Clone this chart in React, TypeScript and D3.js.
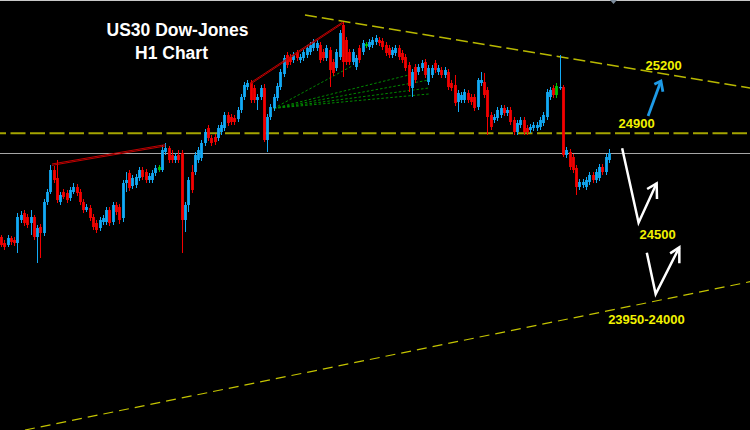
import React from 'react';
import * as d3 from 'd3';

// ---- data (US30 H1 candles, prices) ----
const opens = [24589,24571,24565,24586,24580,24571,24640,24661,24649,24631,24649,24589,24619,24601,24694,24724,24790,24766,24694,24724,24721,24706,24724,24739,24724,24694,24670,24676,24649,24631,24616,24634,24634,24670,24634,24685,24679,24646,24751,24781,24742,24745,24766,24790,24784,24760,24760,24781,24790,24790,24844,24856,24835,24820,24835,24841,24640,24685,24784,24784,24820,24826,24871,24916,24886,24889,24886,24904,24916,24955,24949,24946,24943,24970,25009,25039,25051,25036,25000,25009,25036,24880,24949,24976,25006,25039,25078,25135,25129,25120,25141,25120,25126,25135,25144,25156,25156,25165,25144,25126,25150,25114,25096,25129,25225,25180,25144,25114,25099,25156,25144,25162,25159,25165,25174,25180,25177,25165,25156,25135,25141,25156,25141,25129,25105,25036,25099,25084,25096,25114,25054,25075,25111,25084,25090,25075,25084,25051,25045,24994,25000,25000,25021,25009,25009,24979,25051,25054,25030,24955,24940,24946,24955,24976,24961,24970,24940,24904,24925,24940,24916,24910,24916,24916,24919,24931,24949,25009,25036,25015,25036,25039,24835,24844,24829,24796,24739,24745,24739,24754,24775,24760,24766,24799,24784,24820];
const highs = [24595,24580,24595,24592,24589,24661,24667,24670,24658,24670,24655,24625,24628,24703,24733,24805,24802,24820,24724,24733,24730,24739,24751,24748,24733,24703,24688,24685,24658,24640,24649,24655,24679,24679,24694,24694,24688,24760,24784,24790,24775,24778,24799,24799,24793,24781,24790,24805,24805,24865,24871,24862,24850,24841,24850,24850,24694,24769,24805,24844,24859,24880,24913,24925,24895,24898,24925,24934,24964,24964,24958,24955,24979,25018,25054,25060,25060,25045,25018,25045,25048,24958,24988,25018,25051,25093,25135,25144,25138,25144,25150,25138,25153,25165,25174,25183,25180,25174,25153,25165,25159,25123,25153,25210,25234,25189,25153,25153,25135,25165,25180,25174,25183,25189,25195,25189,25186,25174,25165,25159,25165,25165,25150,25138,25114,25093,25108,25108,25120,25123,25105,25105,25120,25105,25099,25099,25093,25060,25075,25030,25024,25033,25030,25018,25018,25066,25084,25081,25039,24964,24958,24979,24985,24985,24979,24979,24949,24940,24949,24949,24925,24928,24934,24934,24949,24964,25033,25039,25045,25051,25135,25045,24859,24853,24838,24805,24763,24763,24769,24784,24784,24793,24808,24808,24838,24853];
const lows = [24559,24550,24559,24565,24562,24541,24631,24622,24616,24595,24580,24511,24526,24592,24685,24718,24751,24691,24685,24703,24691,24697,24718,24712,24685,24661,24664,24637,24610,24601,24607,24625,24625,24622,24625,24655,24628,24634,24724,24727,24733,24736,24757,24760,24751,24751,24751,24772,24784,24784,24835,24811,24811,24811,24811,24541,24604,24664,24721,24775,24811,24817,24862,24877,24862,24865,24877,24895,24907,24922,24925,24925,24934,24961,25000,25030,24991,24991,24970,25000,24874,24844,24940,24967,24997,25030,25069,25096,25105,25111,25117,25111,25117,25126,25135,25147,25147,25111,25117,25117,25039,25072,25087,25120,25069,25105,25105,25105,25090,25111,25135,25156,25150,25156,25165,25162,25150,25132,25126,25126,25132,25120,25111,25087,25024,25009,25051,25075,25087,25066,25045,25066,25081,25075,25066,25066,25030,25027,24982,24964,24991,24991,24991,24985,24967,24970,25042,25006,24895,24910,24931,24937,24946,24952,24952,24925,24895,24895,24916,24895,24895,24901,24907,24907,24910,24922,24940,25000,25006,25006,25030,24829,24826,24790,24781,24715,24730,24736,24730,24745,24751,24751,24757,24775,24775,24811];
const closes = [24565,24559,24586,24574,24571,24649,24655,24631,24625,24649,24589,24616,24601,24694,24724,24790,24760,24700,24715,24709,24700,24730,24739,24721,24694,24670,24679,24646,24619,24610,24640,24646,24670,24631,24685,24664,24640,24751,24760,24736,24766,24769,24790,24769,24760,24772,24781,24796,24799,24850,24856,24820,24820,24832,24820,24640,24685,24760,24730,24835,24850,24871,24904,24886,24871,24874,24916,24925,24955,24931,24934,24934,24970,25009,25045,25051,25000,25000,25009,25036,24880,24949,24979,25009,25042,25084,25126,25105,25114,25135,25126,25129,25144,25156,25165,25174,25171,25120,25126,25156,25090,25081,25144,25201,25114,25114,25114,25144,25126,25120,25171,25168,25174,25180,25186,25171,25159,25141,25135,25150,25156,25129,25120,25096,25042,25084,25060,25099,25111,25075,25096,25096,25090,25096,25075,25090,25039,25036,24991,25021,25015,25024,25000,24994,24976,25060,25060,25015,24949,24919,24949,24970,24976,24961,24970,24934,24904,24931,24940,24904,24904,24919,24925,24925,24940,24955,25024,25030,25015,25042,25039,24835,24850,24799,24790,24739,24754,24754,24760,24775,24760,24784,24799,24784,24829,24841];
const greenBars = [48, 111, 169];

// ---- drawn objects (bar index, price) ----
const levelPrice = 24900;
const upperTrend = [[92.5, 25255], [228, 25036]];
const lowerTrend = [[7.3, 24010], [228, 24455]];
const redTrendA = [[15.5, 24808], [50, 24866]];
const redTrendB = [[75.8, 25051], [104, 25234]];
const fanOrigin = [83, 24975];
const fanEnds = [[106.8, 25102], [124.1, 25075], [130.2, 25060], [130.2, 25036], [130.2, 25018]];
const whiteArrow1 = [[189, 24855], [194, 24632], [199.5, 24750]];
const whiteArrow1Head = [[196.6, 24733], [199.5, 24750], [199.6, 24703]];
const whiteArrow2 = [[196.5, 24542], [199.2, 24418], [206.4, 24558]];
const whiteArrow2Head = [[203.6, 24540], [206.4, 24558], [206.4, 24510]];
const blueArrow = [[196.9, 24952], [200.8, 25057]];
const blueArrowHead = [[198.8, 25047], [200.8, 25057], [201.4, 25025]];
const labelTexts = ['25200', '24900', '24500', '23950-24000'];
const labelIdx = [201.6, 193.4, 199.8, 196.4];
const labelPrice = [25091, 24916, 24583, 24328];
const titleLines = ['US30 Dow-Jones', 'H1 Chart'];

const W = 750;
const H = 430;

export default function App() {
  const n = closes.length;
  const x = d3.scaleLinear().domain([0, n - 1]).range([1, 609]);
  const y = d3.scaleLinear().domain([25300, 24010]).range([0, H]);
  const line = d3.line<number[]>().x(d => x(d[0])).y(d => y(d[1]));
  const blue = '#12aaf6';
  const red = '#f40000';
  const green = '#00c400';
  const font = "'Liberation Sans', Arial, sans-serif";

  const candles = closes.map((c, i) => {
    const o = opens[i];
    const col = greenBars.includes(i) ? green : c >= o ? blue : red;
    const cx = x(i);
    const wx = Math.round(cx) + 0.5;
    const top = y(Math.max(o, c));
    const bot = y(Math.min(o, c));
    return (
      <g key={i}>
        <line x1={wx} x2={wx} y1={y(highs[i])} y2={y(lows[i])} stroke={col} strokeWidth={1} />
        <rect x={wx - 1.4} y={top} width={2.8} height={Math.max(1.2, bot - top)} fill={col} />
      </g>
    );
  });

  const lastClose = closes[n - 1];

  return (
    <svg width={W} height={H} style={{ position: 'absolute', left: 0, top: 0, background: '#000', display: 'block' }}>
      <rect x={0} y={0} width={W} height={H} fill="#000" />
      <line x1={0} x2={W} y1={0.5} y2={0.5} stroke="#c8c8c8" strokeWidth={1} />
      <path d={`M${x(n - 1) + 1},0 L${x(n - 1) + 8},0 L${x(n - 1) + 4.5},4 Z`} fill="#7d8c9c" />
      {/* horizontal levels */}
      <line x1={0} x2={W} y1={y(levelPrice)} y2={y(levelPrice)} stroke="#a4a400" strokeWidth={2} strokeDasharray="15 4.5" strokeDashoffset={9} />
      <line x1={0} x2={W} y1={Math.round(y(lastClose)) + 0.5} y2={Math.round(y(lastClose)) + 0.5} stroke="#a6a6a6" strokeWidth={1} />
      {/* trend lines */}
      <path d={line(upperTrend) || ''} stroke="#b8b800" strokeWidth={1.6} fill="none" strokeDasharray="12 5" />
      <path d={line(lowerTrend) || ''} stroke="#c4c400" strokeWidth={1.2} fill="none" strokeDasharray="10 6" />
      {/* fan */}
      {fanEnds.map((e, i) => (
        <path key={i} d={line([fanOrigin, e]) || ''} stroke="#008a00" strokeWidth={1} fill="none" strokeDasharray="2.5 2" />
      ))}
      {/* candles */}
      {candles}
      {/* red trend lines */}
      {[redTrendA, redTrendB].map((t, i) => (
        <g key={i}>
          <path d={line(t) || ''} stroke="#c00000" strokeWidth={1} fill="none" />
          <path d={line(t.map(p => [p[0], p[1] - 4])) || ''} stroke="#c00000" strokeWidth={1} fill="none" />
        </g>
      ))}
      {/* arrows */}
      <path d={line(whiteArrow1) || ''} stroke="#fff" strokeWidth={2.5} fill="none" strokeLinejoin="miter" />
      <path d={line(whiteArrow1Head) || ''} stroke="#fff" strokeWidth={2.5} fill="none" />
      <path d={line(whiteArrow2) || ''} stroke="#fff" strokeWidth={2.5} fill="none" />
      <path d={line(whiteArrow2Head) || ''} stroke="#fff" strokeWidth={2.5} fill="none" />
      <path d={line(blueArrow) || ''} stroke="#1e9ae6" strokeWidth={2.8} fill="none" />
      <path d={line(blueArrowHead) || ''} stroke="#1e9ae6" strokeWidth={2.8} fill="none" />
      {/* labels */}
      {labelTexts.map((t, i) => (
        <text key={t} x={x(labelIdx[i])} y={y(labelPrice[i])} fill="#f2f200" fontFamily={font} fontWeight="bold" fontSize={13} textAnchor="middle">{t}</text>
      ))}
      {/* title */}
      <text x={177.5} y={36} fill="#fff" fontFamily={font} fontWeight="bold" fontSize={17.5} textAnchor="middle">{titleLines[0]}</text>
      <text x={171.5} y={59} fill="#fff" fontFamily={font} fontWeight="bold" fontSize={17.5} textAnchor="middle">{titleLines[1]}</text>
    </svg>
  );
}
